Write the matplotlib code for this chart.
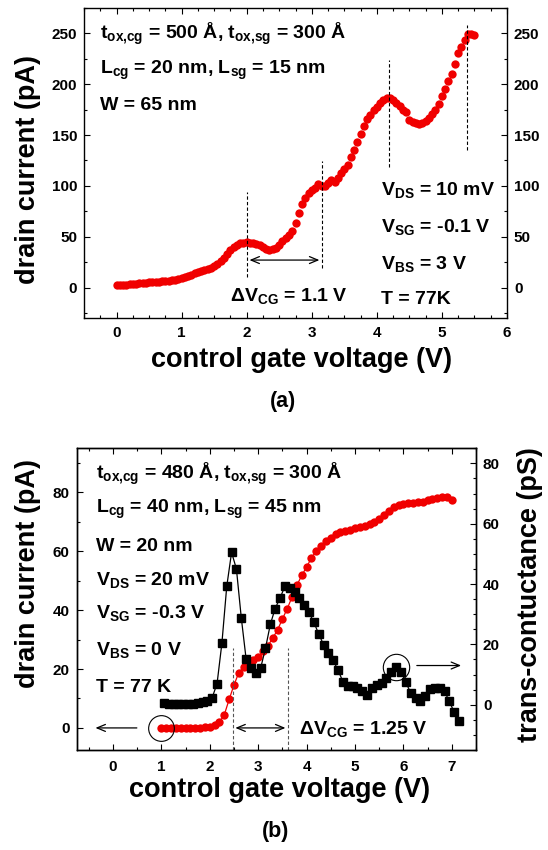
import numpy as np
import matplotlib
matplotlib.use('Agg')
import matplotlib.pyplot as plt
from matplotlib.ticker import MultipleLocator

# ---- data ----
# (a) drain current vs control gate voltage, 0 .. 5.5 V in 0.05 V steps
vcg_a_step = 0.05
id_a = [2.0, 2.3, 2.6, 2.9, 3.2, 3.5, 3.8, 4.1, 4.4, 4.7,
        5.0, 5.3, 5.6, 5.9, 6.2, 6.5, 6.8, 7.1, 7.4, 8.0,
        9.0, 10.2, 11.5, 12.7, 13.8, 14.9, 15.9, 17.0, 18.2, 19.6,
        21.2, 23.4, 26.2, 29.5, 33.0, 37.0, 40.0, 42.0, 43.3, 44.0,
        44.3, 44.2, 43.8, 43.0, 41.5, 39.5, 38.0, 37.0, 37.5, 39.0,
        42.0, 45.5, 48.5, 52.0, 56.0, 63.0, 73.0, 82.0, 88.0, 92.5,
        95.5, 98.0, 102.0, 100.0, 99.5, 103.0, 105.5, 104.0, 108.0, 112.5,
        116.5, 121.0, 128.0, 135.0, 143.0, 151.0, 159.0, 165.5, 170.0, 174.5,
        178.0, 181.5, 184.0, 186.0, 186.0, 184.5, 182.0, 178.5, 175.0, 173.0,
        164.5, 162.5, 161.5, 161.2, 161.8, 163.5, 166.5, 170.5, 175.0, 181.0,
        188.0, 195.0, 203.0, 210.0, 220.0, 231.0, 237.0, 244.0, 249.5, 249.5,
        248.0]
vcg_a = np.round(np.arange(len(id_a)) * vcg_a_step, 2)

# (b) drain current, 1.0 .. 7.0 V in 0.1 V steps
id_b = [0.0, 0.0, 0.0, 0.0, 0.0, 0.0, 0.0, 0.0, 0.1, 0.2,
        0.4, 0.9, 2.0, 4.5, 9.7, 14.6, 18.8, 20.6, 22.0, 23.1,
        24.2, 26.0, 27.9, 30.5, 33.3, 37.0, 40.5, 44.5, 48.5, 51.8,
        54.7, 57.7, 60.2, 61.9, 63.4, 64.6, 65.8, 66.4, 66.9, 67.3,
        67.9, 68.2, 68.6, 69.3, 70.0, 71.1, 72.4, 73.7, 75.0, 75.7,
        76.0, 76.3, 76.5, 76.7, 76.9, 77.3, 77.8, 78.2, 78.5, 78.4,
        77.6]
vcg_b = np.round(1.0 + np.arange(len(id_b)) * 0.1, 2)

# (b) trans-conductance, 1.05 .. 7.15 V (mid points)
gm_b = [0.5, 0.3, 0.2, 0.2, 0.2, 0.3, 0.4, 0.6, 0.9, 1.3,
        2.4, 7.0, 20.4, 39.2, 50.5, 45.0, 28.9, 15.2, 12.1, 10.5,
        12.1, 18.7, 26.6, 31.9, 35.3, 39.2, 38.8, 37.5, 35.3, 33.0,
        30.6, 27.3, 23.5, 19.9, 17.3, 14.7, 11.4, 7.7, 6.3, 6.3,
        5.5, 4.4, 3.3, 5.5, 6.6, 7.2, 8.8, 11.0, 12.4, 11.0,
        7.5, 3.9, 2.2, 1.1, 2.8, 5.2, 5.7, 5.5, 4.4, 1.1,
        -2.5, -5.3]
vgm_b = np.round(1.05 + np.arange(len(gm_b)) * 0.1, 2)

# ---- style ----
plt.rcParams['font.family'] = ['Liberation Sans', 'DejaVu Sans']
plt.rcParams['font.weight'] = 'bold'
plt.rcParams['mathtext.fontset'] = 'custom'
plt.rcParams['mathtext.rm'] = 'Liberation Sans:bold'
plt.rcParams['mathtext.it'] = 'Liberation Sans:italic:bold'
plt.rcParams['mathtext.bf'] = 'Liberation Sans:bold'
plt.rcParams['axes.linewidth'] = 1.0

W, H = 548, 850
fig = plt.figure(figsize=(W / 100, H / 100), dpi=100)


def px(x, y):
    return x / W, 1 - y / H


def style_ticks(ax):
    ax.tick_params(which='both', direction='in', width=0.8, labelsize=11)
    ax.tick_params(which='major', length=4.5)
    ax.tick_params(which='minor', length=2.5)


# ---------- panel (a) ----------
ax = fig.add_axes([84 / W, 1 - 318 / H, 423 / W, 310 / H])
ax.plot(vcg_a, id_a, 'o', color='#f00000', ms=6, mec='none')
ax.set_xlim(-0.5, 6)
ax.set_ylim(-30, 275)
ax.xaxis.set_major_locator(MultipleLocator(1))
ax.xaxis.set_minor_locator(MultipleLocator(0.25))
ax.yaxis.set_major_locator(MultipleLocator(50))
ax.yaxis.set_minor_locator(MultipleLocator(25))
style_ticks(ax)
ax.tick_params(which='both', top=True, right=True, labelright=True)
ax.tick_params(axis='x', pad=6)
ax.tick_params(axis='y', pad=5)

dash = (0, (3, 2))
for x0, y0, y1 in [(2.0, 10, 94), (3.16, 19, 124), (4.18, 119, 224), (5.38, 135, 258)]:
    ax.plot([x0, x0], [y0, y1], color='k', lw=0.8, ls=dash)
ax.annotate('', xy=(2.0, 27), xytext=(3.16, 27),
            arrowprops=dict(arrowstyle='<->,head_length=0.6,head_width=0.25', lw=0.9, color='k'))

fs = 14
ax.text(-0.26, 244.7, r'$\mathrm{t_{ox{,}cg}}$ = 500 Å, $\mathrm{t_{ox{,}sg}}$ = 300 Å', fontsize=fs)
ax.text(-0.26, 210.2, r'$\mathrm{L_{cg}}$ = 20 nm, $\mathrm{L_{sg}}$ = 15 nm', fontsize=fs)
ax.text(-0.26, 174.2, 'W = 65 nm', fontsize=fs)
ax.text(4.07, 90.6, r'$\mathrm{V_{DS}}$ = 10 mV', fontsize=fs)
ax.text(4.07, 54.4, r'$\mathrm{V_{SG}}$ = -0.1 V', fontsize=fs)
ax.text(4.07, 18.3, r'$\mathrm{V_{BS}}$ = 3 V', fontsize=fs)
ax.text(4.07, -16.1, 'T = 77K', fontsize=fs)
ax.text(1.74, -12.8, r'$\mathit{Δ}\mathrm{V_{CG}}$ = 1.1 V', fontsize=fs)

fig.text(*px(28, 170), 'drain current (pA)', rotation=90, ha='center', va='center', fontsize=19.5)
fig.text(*px(302, 360), 'control gate voltage (V)', ha='center', va='center', fontsize=19.5)
fig.text(*px(283, 402), '(a)', ha='center', va='center', fontsize=15.5)

# ---------- panel (b) ----------
bx = fig.add_axes([76.7 / W, 1 - 750 / H, 399.3 / W, 301.7 / H])
bx.plot(vcg_b, id_b, '-o', color='#f00000', lw=0.9, ms=6, mec='none')
bx.set_xlim(-0.75, 7.5)
bx.set_ylim(-7.5, 95)
bx.xaxis.set_major_locator(MultipleLocator(1))
bx.xaxis.set_minor_locator(MultipleLocator(0.5))
bx.yaxis.set_major_locator(MultipleLocator(20))
bx.yaxis.set_minor_locator(MultipleLocator(10))
bx.set_yticks([0, 20, 40, 60, 80])
style_ticks(bx)
bx.tick_params(which='both', top=True)
bx.tick_params(axis='x', pad=7)
bx.tick_params(axis='y', pad=5)

br = bx.twinx()
br.plot(vgm_b, gm_b, '-s', color='k', lw=0.9, ms=5.5)
br.set_ylim(-15, 85)
br.yaxis.set_major_locator(MultipleLocator(20))
br.yaxis.set_minor_locator(MultipleLocator(5))
br.set_yticks([0, 20, 40, 60, 80])
style_ticks(br)
br.tick_params(axis='y', pad=5)

for x0 in [2.47, 3.62]:
    bx.plot([x0, x0], [-7.5, 27], color='#555555', lw=0.8, ls=dash)
bx.annotate('', xy=(2.47, 0), xytext=(3.62, 0),
            arrowprops=dict(arrowstyle='<->,head_length=0.6,head_width=0.25', lw=0.9, color='k'))
bx.annotate('', xy=(-0.42, 0), xytext=(0.55, 0),
            arrowprops=dict(arrowstyle='->,head_length=0.6,head_width=0.25', lw=0.9, color='k'))
bx.plot([1.0], [0], 'o', mfc='none', mec='k', ms=18.5, mew=0.8)
br.plot([5.85], [12.4], 'o', mfc='none', mec='k', ms=19, mew=0.8)
br.annotate('', xy=(7.25, 13), xytext=(6.22, 13),
            arrowprops=dict(arrowstyle='->,head_length=0.6,head_width=0.25', lw=0.9, color='k'))

bx.text(-0.35, 84.5, r'$\mathrm{t_{ox{,}cg}}$ = 480 Å, $\mathrm{t_{ox{,}sg}}$ = 300 Å', fontsize=fs)
bx.text(-0.35, 73.0, r'$\mathrm{L_{cg}}$ = 40 nm, $\mathrm{L_{sg}}$ = 45 nm', fontsize=fs)
bx.text(-0.35, 60.0, 'W = 20 nm', fontsize=fs)
bx.text(-0.35, 48.7, r'$\mathrm{V_{DS}}$ = 20 mV', fontsize=fs)
bx.text(-0.35, 37.2, r'$\mathrm{V_{SG}}$ = -0.3 V', fontsize=fs)
bx.text(-0.35, 24.8, r'$\mathrm{V_{BS}}$ = 0 V', fontsize=fs)
bx.text(-0.35, 12.2, 'T = 77 K', fontsize=fs)
bx.text(3.84, -2.0, r'$\mathit{Δ}\mathrm{V_{CG}}$ = 1.25 V', fontsize=fs)

fig.text(*px(28, 573), 'drain current (pA)', rotation=90, ha='center', va='center', fontsize=19.5)
fig.text(*px(530, 595), 'trans-contuctance (pS)', rotation=90, ha='center', va='center', fontsize=19.5)
fig.text(*px(280, 790), 'control gate voltage (V)', ha='center', va='center', fontsize=19.5)
fig.text(*px(276, 832), '(b)', ha='center', va='center', fontsize=15.5)

fig.savefig('out.png', dpi=100)
